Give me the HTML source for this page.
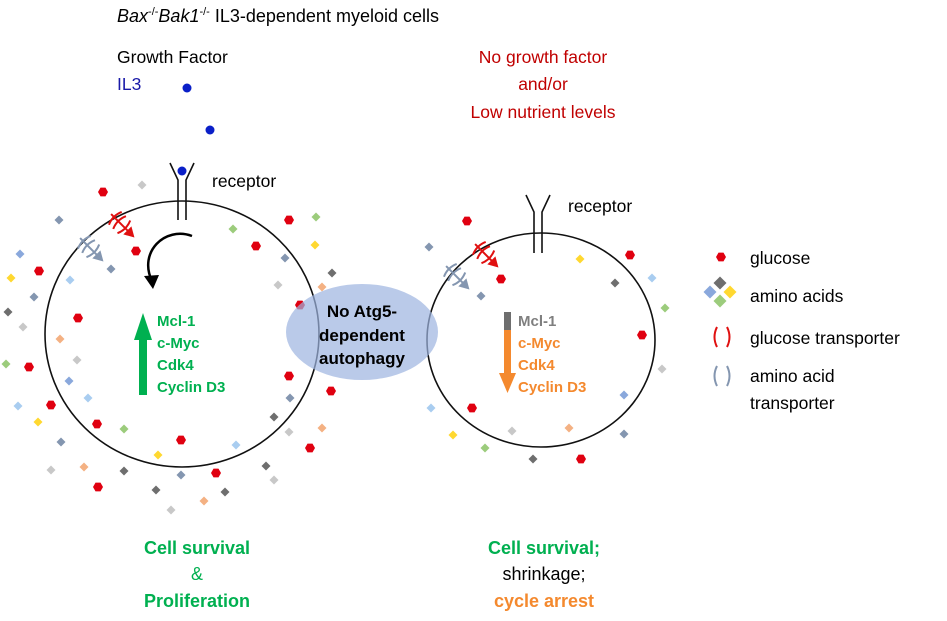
<!DOCTYPE html><html><head><style>body{margin:0;background:#fff}svg{display:block}text{font-family:"Liberation Sans",Arial,sans-serif}</style></head><body>
<svg id="s" width="947" height="621" viewBox="0 0 947 621" xmlns="http://www.w3.org/2000/svg">
<text x="117" y="22" font-size="18"><tspan font-style="italic">Bax</tspan><tspan font-size="11" dy="-7">-/-</tspan><tspan font-style="italic" dy="7">Bak1</tspan><tspan font-size="11" dy="-7">-/-</tspan><tspan dy="7"> IL3-dependent myeloid cells</tspan></text>
<text x="117" y="63" font-size="17.5">Growth Factor</text>
<text x="117" y="90" font-size="17.5" fill="#1a1aa8">IL3</text>
<circle cx="187" cy="88" r="4.5" fill="#0a1fc8"/><circle cx="210" cy="130" r="4.5" fill="#0a1fc8"/>
<g fill="#c00000" font-size="17.5" text-anchor="middle"><text x="543" y="63">No growth factor</text><text x="543" y="90">and/or</text><text x="543" y="118">Low nutrient levels</text></g>
<ellipse cx="182" cy="334" rx="137" ry="133" fill="none" stroke="#111" stroke-width="1.6"/>
<ellipse cx="541" cy="340" rx="114" ry="107" fill="none" stroke="#111" stroke-width="1.6"/>
<g stroke="#111" stroke-width="1.6" fill="none"><path d="M170,163 L178,180 V220 M194,163 L186,180 V220"/><path d="M526,195 L534,212 V253 M550,195 L542,212 V253"/></g>
<circle cx="182" cy="171" r="4.5" fill="#0a1fc8"/>
<text x="212" y="187" font-size="17.5">receptor</text><text x="568" y="212" font-size="17.5">receptor</text>
<path d="M192,236 C165,226 138,252 152,281" fill="none" stroke="#000" stroke-width="2.5"/><path d="M144,276 L153,289 L159,275 Z" fill="#000"/>
<g id="dots"></g>
<rect x="139" y="338" width="8" height="57" fill="#00b050"/><path d="M134,340 L143,313 L152,340Z" fill="#00b050"/>
<g fill="#00b050" font-weight="bold" font-size="15"><text x="157" y="326">Mcl-1</text><text x="157" y="348">c-Myc</text><text x="157" y="370">Cdk4</text><text x="157" y="392">Cyclin D3</text></g>
<rect x="504" y="312" width="7" height="18" fill="#6e6e6e"/><rect x="504" y="330" width="7" height="45" fill="#f4892e"/><path d="M499,373 L507.5,393 L516,373Z" fill="#f4892e"/>
<text x="518" y="326" font-weight="bold" font-size="15" fill="#7f7f7f">Mcl-1</text>
<g fill="#f4892e" font-weight="bold" font-size="15"><text x="518" y="348">c-Myc</text><text x="518" y="370">Cdk4</text><text x="518" y="392">Cyclin D3</text></g>
<ellipse cx="362" cy="332" rx="76" ry="48" fill="#9db4e0" opacity="0.7"/>
<g font-weight="bold" font-size="17" text-anchor="middle"><text x="362" y="317">No Atg5-</text><text x="362" y="341">dependent</text><text x="362" y="364">autophagy</text></g>
<g font-size="18" text-anchor="middle" font-weight="bold"><text x="197" y="554" fill="#00b050">Cell survival</text><text x="197" y="580" fill="#00b050" font-weight="normal">&amp;</text><text x="197" y="607" fill="#00b050">Proliferation</text>
<text x="544" y="554" fill="#00b050">Cell survival;</text><text x="544" y="580" font-weight="normal" fill="#000">shrinkage;</text><text x="544" y="607" fill="#f4892e">cycle arrest</text></g>
<g font-size="17.5"><text x="750" y="264">glucose</text><text x="750" y="302">amino acids</text><text x="750" y="344">glucose transporter</text><text x="750" y="382">amino acid</text><text x="750" y="409">transporter</text></g>
<g fill="none" stroke-width="2"><path d="M717,327 Q712,337 717,347 M727,327 Q732,337 727,347" stroke="#e01010"/><path d="M717,366 Q712,376 717,386 M727,366 Q732,376 727,386" stroke="#8496b0"/></g>
</svg>
<script>
var C={r:"#e00010",sl:"#8496b0",lg:"#c8c8c8",dg:"#6e6e6e",b:"#8aa8dc",lb:"#a9cdf0",y:"#ffd830",g:"#9ccc7c",p:"#f4b183"};
var red=[[103,192],[136,251],[39,271],[78,318],[29,367],[51,405],[97,424],[289,220],[256,246],[300,305],[289,376],[331,391],[310,448],[181,440],[216,473],[98,487],[467,221],[501,279],[630,255],[642,335],[472,408],[581,459],[721,257]];
var dia=[[142,185,"lg"],[59,220,"sl"],[20,254,"b"],[11,278,"y"],[111,269,"sl"],[34,297,"sl"],[70,280,"lb"],[8,312,"dg"],[23,327,"lg"],[60,339,"p"],[77,360,"lg"],[6,364,"g"],[69,381,"b"],[88,398,"lb"],[18,406,"lb"],[38,422,"y"],[61,442,"sl"],[124,429,"g"],[158,455,"y"],[236,445,"lb"],[290,398,"sl"],[274,417,"dg"],[289,432,"lg"],[322,428,"p"],[316,217,"g"],[233,229,"g"],[315,245,"y"],[285,258,"sl"],[332,273,"dg"],[278,285,"lg"],[322,287,"p"],[51,470,"lg"],[84,467,"p"],[124,471,"dg"],[181,475,"sl"],[266,466,"dg"],[274,480,"lg"],[156,490,"dg"],[225,492,"dg"],[204,501,"p"],[171,510,"lg"],[429,247,"sl"],[481,296,"sl"],[580,259,"y"],[615,283,"dg"],[652,278,"lb"],[665,308,"g"],[662,369,"lg"],[624,395,"b"],[624,434,"sl"],[431,408,"lb"],[453,435,"y"],[485,448,"g"],[512,431,"lg"],[569,428,"p"],[533,459,"dg"]];
var leg=[[720,283,"dg"],[710,292,"b"],[730,292,"y"],[720,301,"g"]];
var h="";
red.forEach(function(d){var x=d[0],y=d[1],r=5;h+='<polygon fill="#e00010" points="'+(x-r)+','+y+' '+(x-r/2)+','+(y-r*0.87)+' '+(x+r/2)+','+(y-r*0.87)+' '+(x+r)+','+y+' '+(x+r/2)+','+(y+r*0.87)+' '+(x-r/2)+','+(y+r*0.87)+'"/>';});
function dm(d,r){var x=d[0],y=d[1];h+='<polygon fill="'+C[d[2]]+'" points="'+x+','+(y-r)+' '+(x+r)+','+y+' '+x+','+(y+r)+' '+(x-r)+','+y+'"/>';}
dia.forEach(function(d){dm(d,4.5);});leg.forEach(function(d){dm(d,6.5);});
function tr(x,y,c){var s='<g transform="translate('+x+','+y+') rotate(45)" stroke="'+c+'" stroke-width="2" fill="none">';
s+='<path d="M-8,-9 Q-12,0 -8,9 M-2,-9 Q-6,0 -2,9 M4,-9 Q8,0 4,9"/><path d="M-14,0 H14"/><path d="M10,-4 L17,0 L10,4Z" fill="'+c+'"/></g>';return s;}
h+=tr(121,224,"#e01010")+tr(90,248,"#8496b0")+tr(485,254,"#e01010")+tr(456,276,"#8496b0");
document.getElementById("dots").innerHTML=h;
</script>
</body></html>
